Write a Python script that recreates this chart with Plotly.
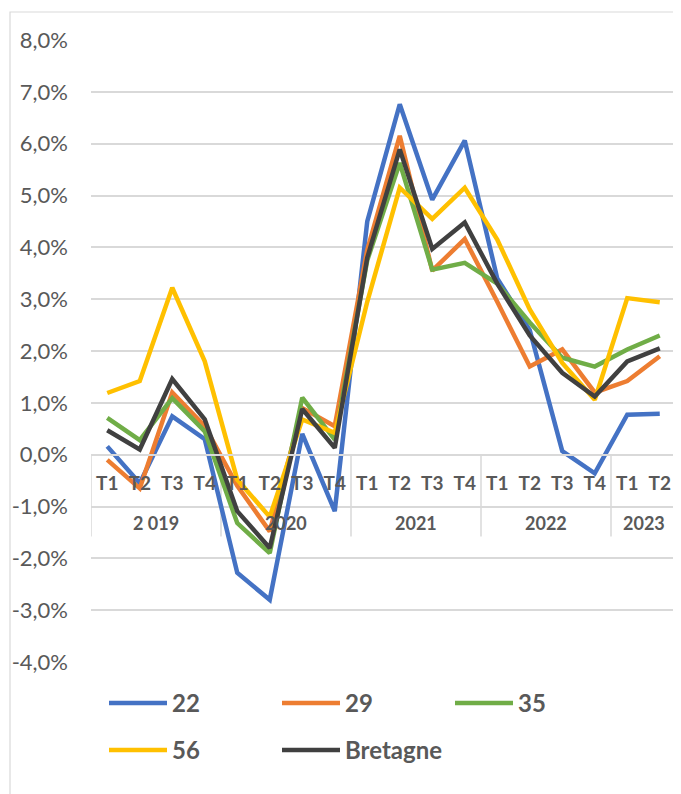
import plotly.graph_objects as go

quarters = ["T1", "T2", "T3", "T4"] * 4 + ["T1", "T2"]
years = ["2 019"] * 4 + ["2020"] * 4 + ["2021"] * 4 + ["2022"] * 4 + ["2023"] * 2

s22 = [0.16, -0.55, 0.74, 0.30, -2.28, -2.80, 0.40, -1.09, 4.50, 6.76, 4.92, 6.06, 3.40, 2.40, 0.07, -0.36, 0.77, 0.79]
s29 = [-0.10, -0.65, 1.20, 0.55, -0.60, -1.48, 0.90, 0.55, 3.95, 6.15, 3.55, 4.16, 2.95, 1.70, 2.03, 1.20, 1.42, 1.90]
s35 = [0.71, 0.28, 1.09, 0.45, -1.32, -1.90, 1.10, 0.29, 3.75, 5.63, 3.57, 3.70, 3.30, 2.55, 1.87, 1.70, 2.03, 2.30]
s56 = [1.19, 1.42, 3.22, 1.80, -0.48, -1.20, 0.68, 0.42, 2.95, 5.15, 4.55, 5.15, 4.15, 2.80, 1.77, 1.06, 3.02, 2.94]
sBretagne = [0.47, 0.10, 1.46, 0.68, -1.09, -1.80, 0.88, 0.13, 3.80, 5.89, 3.97, 4.48, 3.30, 2.30, 1.58, 1.12, 1.80, 2.05]

series_names = ["22", "29", "35", "56", "Bretagne"]
series_values = [s22, s29, s35, s56, sBretagne]
series_colors = ["#4472C4", "#ED7D31", "#70AD47", "#FFC000", "#404040"]
series_legend = ["legend", "legend", "legend", "legend2", "legend2"]

y_tickvals = [-4, -3, -2, -1, 0, 1, 2, 3, 4, 5, 6, 7, 8]
y_ticktext = ["-4,0%", "-3,0%", "-2,0%", "-1,0%", "0,0%", "1,0%", "2,0%", "3,0%", "4,0%", "5,0%", "6,0%", "7,0%", "8,0%"]

FONT = "Lato"
GREY = "#595959"
GRID = "#D9D9D9"

x_idx = list(range(len(quarters)))

fig = go.Figure()
for name, vals, col, lg in zip(series_names, series_values, series_colors, series_legend):
    fig.add_trace(go.Scatter(
        x=x_idx, y=vals, name=name, mode="lines",
        line=dict(color=col, width=4.5), legend=lg,
        customdata=[f"{y} {q}" for y, q in zip(years, quarters)],
        hovertemplate="%{customdata}: %{y:.2f}%<extra>" + name + "</extra>",
    ))

# year groups (second level of the category axis)
groups = []
for i, yr in enumerate(years):
    if not groups or groups[-1][0] != yr:
        groups.append([yr, i, i])
    else:
        groups[-1][2] = i

annotations = []
shapes = []
DIV_BOTTOM = -1.58   # lower end of group dividers (data units)
YEAR_Y = -1.31       # year label row (data units)
for yr, i0, i1 in groups:
    annotations.append(dict(x=(i0 + i1) / 2, y=YEAR_Y, xref="x", yref="y", text=yr,
                            showarrow=False, xanchor="center", yanchor="middle",
                            font=dict(size=18, color=GREY, family=FONT, weight="bold")))
boundaries = [groups[0][1] - 0.5] + [g[2] + 0.5 for g in groups]
for b in boundaries:
    shapes.append(dict(type="line", xref="x", yref="y", x0=b, x1=b, y0=0, y1=DIV_BOTTOM,
                       line=dict(color=GRID, width=1.5), layer="below"))

# page body has an 8px default margin: figure is sized to fill the rest of the window
W, H = 673, 786
ml, mr, mt, mb = 83, 5, 32, 132
pw = W - ml - mr
ph = H - mt - mb

shapes.append(dict(type="rect", xref="paper", yref="paper",
                   x0=(2 - ml) / pw, x1=1.5, y0=-1.0, y1=(H - mb - 4) / ph,
                   line=dict(color=GRID, width=1.2), fillcolor="rgba(0,0,0,0)", layer="below"))

leg_font = dict(size=24, color=GREY, family=FONT, weight="bold")
leg_x = (96 - ml) / pw

fig.update_layout(
    width=W, height=H,
    margin=dict(l=ml, r=mr, t=mt, b=mb),
    paper_bgcolor="white", plot_bgcolor="white",
    font=dict(family=FONT, color=GREY),
    legend=dict(orientation="h", x=leg_x, xanchor="left",
                y=-19 / ph, yanchor="top",
                itemwidth=58, entrywidth=100, entrywidthmode="pixels",
                font=leg_font, bgcolor="rgba(0,0,0,0)"),
    legend2=dict(orientation="h", x=leg_x, xanchor="left",
                 y=-66 / ph, yanchor="top",
                 itemwidth=58, entrywidth=100, entrywidthmode="pixels",
                 font=leg_font, bgcolor="rgba(0,0,0,0)"),
    xaxis=dict(anchor="free", position=1 / 3,
               range=[-0.5, len(quarters) - 0.5],
               tickmode="array", tickvals=x_idx, ticktext=quarters,
               showline=True, linecolor=GRID, linewidth=1.5,
               showgrid=False, zeroline=False, ticks="",
               ticklabelstandoff=12,
               tickfont=dict(size=19, color=GREY, family=FONT, weight="bold")),
    yaxis=dict(range=[-4, 8], tickvals=y_tickvals, ticktext=y_ticktext,
               showgrid=True, gridcolor=GRID, gridwidth=1.5,
               zeroline=False, showline=False, ticks="",
               ticklabelstandoff=22,
               tickfont=dict(size=22, color=GREY, family=FONT)),
    annotations=annotations,
    shapes=shapes,
    showlegend=True,
)

fig.write_html("out.html")
